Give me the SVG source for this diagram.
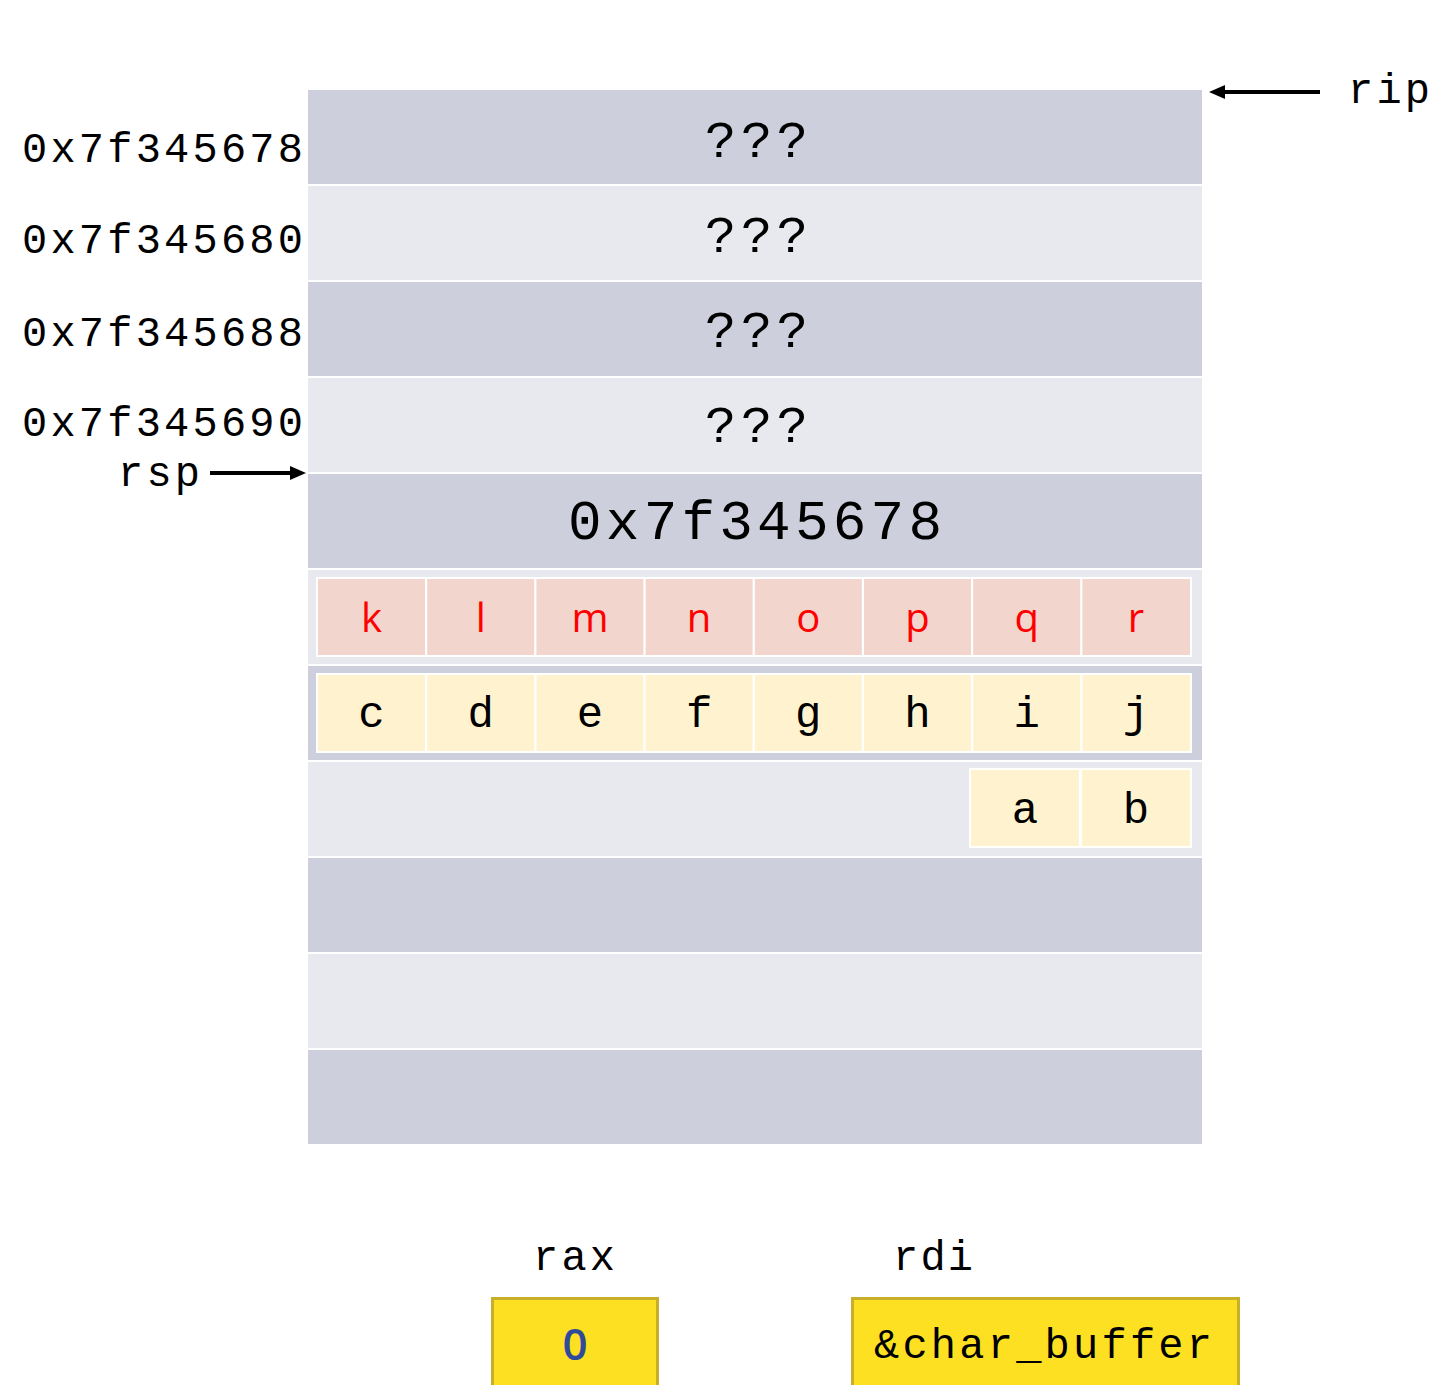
<svg xmlns="http://www.w3.org/2000/svg" width="1438" height="1385" viewBox="0 0 1438 1385">
<defs>
<style>
.dk{fill:#cdcfdc}.lt{fill:#e8e9ee}
.mono{font-family:"Liberation Mono","Courier New",monospace;fill:#000}
.pk{fill:#f2d5cc}.yl{fill:#fff3cf}
.rd{font-family:"Open Sans","Liberation Sans",sans-serif;font-size:40px;fill:#ff0000;text-anchor:middle}
.ch{font-family:"Liberation Mono",monospace;font-size:44px;fill:#000;text-anchor:middle}
.reg{fill:#fde021;stroke:#c9ae2a;stroke-width:3}
.arr{stroke:#000;stroke-width:4}
</style>
</defs>
<rect width="1438" height="1385" fill="#fff"/>
<g id="stack">
<rect class="dk" x="308" y="90" width="894" height="94"/>
<rect class="lt" x="308" y="186" width="894" height="94"/>
<rect class="dk" x="308" y="282" width="894" height="94"/>
<rect class="lt" x="308" y="378" width="894" height="94"/>
<rect class="dk" x="308" y="474" width="894" height="94"/>
<rect class="lt" x="308" y="570" width="894" height="94"/>
<rect class="dk" x="308" y="666" width="894" height="94"/>
<rect class="lt" x="308" y="762" width="894" height="94"/>
<rect class="dk" x="308" y="858" width="894" height="94"/>
<rect class="lt" x="308" y="954" width="894" height="94"/>
<rect class="dk" x="308" y="1050" width="894" height="94"/>
</g>
<g id="values">
<text class="mono" x="705" y="157" font-size="52" textLength="103" lengthAdjust="spacing">???</text>
<text class="mono" x="705" y="252" font-size="52" textLength="103" lengthAdjust="spacing">???</text>
<text class="mono" x="705" y="347" font-size="52" textLength="103" lengthAdjust="spacing">???</text>
<text class="mono" x="705" y="442" font-size="52" textLength="103" lengthAdjust="spacing">???</text>
<text class="mono" x="568" y="539" font-size="56" textLength="374" lengthAdjust="spacing">0x7f345678</text>
</g>
<g id="addresses">
<text class="mono" x="22" y="162" font-size="42" textLength="281" lengthAdjust="spacing">0x7f345678</text>
<text class="mono" x="22" y="253" font-size="42" textLength="281" lengthAdjust="spacing">0x7f345680</text>
<text class="mono" x="22" y="346" font-size="42" textLength="281" lengthAdjust="spacing">0x7f345688</text>
<text class="mono" x="22" y="436" font-size="42" textLength="281" lengthAdjust="spacing">0x7f345690</text>
</g>
<g id="row-red">
<rect x="316" y="577" width="876" height="80" fill="#fff"/>
<rect class="pk" x="318" y="579" width="107" height="76"/>
<rect class="pk" x="427.2" y="579" width="107" height="76"/>
<rect class="pk" x="536.4" y="579" width="107" height="76"/>
<rect class="pk" x="645.6" y="579" width="107" height="76"/>
<rect class="pk" x="754.8" y="579" width="107" height="76"/>
<rect class="pk" x="864" y="579" width="107" height="76"/>
<rect class="pk" x="973.2" y="579" width="107" height="76"/>
<rect class="pk" x="1082.4" y="579" width="107.6" height="76"/>
<text class="rd" x="371.5" y="632">k</text>
<text class="rd" x="480.7" y="632">l</text>
<text class="rd" x="589.9" y="632">m</text>
<text class="rd" x="699.1" y="632">n</text>
<text class="rd" x="808.3" y="632">o</text>
<text class="rd" x="917.5" y="632">p</text>
<text class="rd" x="1026.7" y="632">q</text>
<text class="rd" x="1136" y="632">r</text>
</g>
<g id="row-yellow">
<rect x="316" y="673" width="876" height="80" fill="#fff"/>
<rect class="yl" x="318" y="675" width="107" height="76"/>
<rect class="yl" x="427.2" y="675" width="107" height="76"/>
<rect class="yl" x="536.4" y="675" width="107" height="76"/>
<rect class="yl" x="645.6" y="675" width="107" height="76"/>
<rect class="yl" x="754.8" y="675" width="107" height="76"/>
<rect class="yl" x="864" y="675" width="107" height="76"/>
<rect class="yl" x="973.2" y="675" width="107" height="76"/>
<rect class="yl" x="1082.4" y="675" width="107.6" height="76"/>
<text class="ch" x="371.5" y="727">c</text>
<text class="ch" x="480.7" y="727">d</text>
<text class="ch" x="589.9" y="727">e</text>
<text class="ch" x="699.1" y="727">f</text>
<text class="ch" x="808.3" y="727">g</text>
<text class="ch" x="917.5" y="727">h</text>
<text class="ch" x="1026.7" y="727">i</text>
<text class="ch" x="1136" y="727">j</text>
</g>
<g id="row-ab">
<rect x="969" y="768" width="223" height="80" fill="#fff"/>
<rect class="yl" x="971" y="770" width="108" height="76"/>
<rect class="yl" x="1082" y="770" width="108" height="76"/>
<text class="ch" x="1025" y="823">a</text>
<text class="ch" x="1136" y="823">b</text>
</g>
<g id="pointers">
<text class="mono" x="118" y="486" font-size="42" textLength="82" lengthAdjust="spacing">rsp</text>
<text class="mono" x="1348" y="103" font-size="42" textLength="82" lengthAdjust="spacing">rip</text>
</g>
<g id="connectors">
<line class="arr" x1="210" y1="473" x2="292" y2="473"/>
<path d="M290,466 L306,473 L290,480 z" fill="#000"/>
<line class="arr" x1="1320" y1="92" x2="1222" y2="92"/>
<path d="M1225,85 L1209,92 L1225,99 z" fill="#000"/>
</g>
<g id="rax">
<text class="mono" x="533" y="1270" font-size="42" textLength="82" lengthAdjust="spacing">rax</text>
<rect class="reg" x="492.5" y="1298.5" width="165" height="100"/>
<text x="575" y="1360" font-family="'Open Sans','Liberation Sans',sans-serif" font-size="44" font-weight="600" fill="#2f4a9a" text-anchor="middle">0</text>
</g>
<g id="rdi">
<text class="mono" x="893" y="1270" font-size="42" textLength="80" lengthAdjust="spacing">rdi</text>
<rect class="reg" x="852.5" y="1298.5" width="386" height="100"/>
<text class="mono" x="874" y="1358" font-size="42" textLength="338" lengthAdjust="spacing">&amp;char_buffer</text>
</g>
</svg>
